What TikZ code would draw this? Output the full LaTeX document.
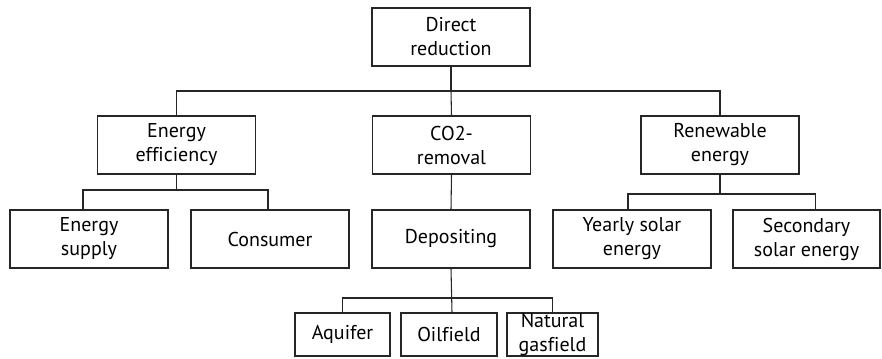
\documentclass[tikz,border=0pt]{standalone}
\usepackage{fontspec}
\setmainfont[Ligatures=NoCommon]{PT Sans}
\begin{document}
\begin{tikzpicture}[x=0.75pt,y=-0.75pt,
  box/.style={draw=black!85,line width=0.8pt,align=center,inner sep=0pt,
    font=\fontsize{15}{18}\selectfont,minimum height=43.5pt,minimum width=118.5pt},
  smallbox/.style={box,minimum height=32.25pt},
  conn/.style={draw=black!85,line width=0.8pt}]
\useasboundingbox (0,0) rectangle (882,358);
\node[box] (top) at (451,37) {Direct\\reduction};
\node[box] (ee) at (176.5,145) {Energy\\efficiency};
\node[box] (co2) at (451.5,145) {CO2-\\removal};
\node[box] (re) at (720,145) {Renewable\\energy};
\node[box] (es) at (89,239) {Energy\\supply};
\node[box] (con) at (270,239) {Consumer};
\node[box] (dep) at (451,239) {Depositing};
\node[box] (yse) at (632,239) {Yearly solar\\energy};
\node[box,minimum width=110.25pt] (sse) at (806.5,239) {Secondary\\solar energy};
\node[smallbox,minimum width=71.25pt] (aq) at (342.5,334.5) {Aquifer};
\node[smallbox,minimum width=72pt] (oil) at (449,334.5) {Oilfield};
\node[smallbox,minimum width=68.25pt] (nat) at (552.5,334.5) {Natural\\gasfield};
\coordinate (b1) at (0,91);
\coordinate (b2) at (0,190);
\coordinate (b3) at (0,194);
\coordinate (b4) at (0,298);
% level 1
\draw[conn] (top.south) -- (top.south |- b1);
\draw[conn] (ee.north) |- (re.north |- b1) -- (re.north);
\draw[conn] (top.south |- b1) -- (co2.north);
% energy efficiency
\draw[conn] (ee.south) -- (ee.south |- b2);
\draw[conn] ([xshift=-4.5pt]es.north) |- ([xshift=-1.5pt]con.north |- b2) -- ([xshift=-1.5pt]con.north);
% co2
\draw[conn] (co2.south) -- (dep.north);
% renewable
\draw[conn] (re.south) -- (re.south |- b3);
\draw[conn] ([xshift=-3pt]yse.north) |- ([xshift=6.4pt]sse.north |- b3) -- ([xshift=6.4pt]sse.north);
% depositing
\draw[conn] (dep.south) -- ([xshift=2.25pt]oil.north);
\draw[conn] (aq.north) |- (nat.north |- b4) -- (nat.north);
\end{tikzpicture}
\end{document}
